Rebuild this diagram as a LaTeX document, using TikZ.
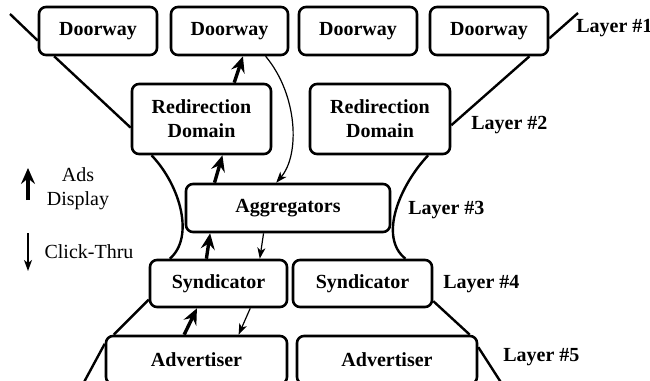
\documentclass[tikz,border=0pt]{standalone}
\usepackage{fontspec}
\setmainfont{Liberation Serif}
\usetikzlibrary{arrows.meta,calc}

\begin{document}
\begin{tikzpicture}[x=0.5pt,y=-0.5pt,
  box/.style={draw,line width=1.3pt,rounded corners=3.5pt,align=center,
    font=\bfseries,inner sep=1pt,minimum height=24pt},
  funnel/.style={line width=1.2pt},
  thickarr/.style={line width=1.7pt,-{Stealth[length=8pt,width=7pt,inset=2.8pt]}},
  thinarr/.style={line width=0.6pt,-{Stealth[length=5.5pt,width=4pt,inset=1.5pt]}},
  layer/.style={font=\bfseries,anchor=west,inner sep=0pt}]
\useasboundingbox (0,0) rectangle (650,381);
% layer 1
\node[box,minimum width=59pt] (door1) at (98,31) {Doorway};
\node[box,minimum width=58.5pt] (door2) at (229.5,31) {Doorway};
\node[box,minimum width=59pt] (door3) at (358,31) {Doorway};
\node[box,minimum width=59pt] (door4) at (489,31) {Doorway};
% layer 2
\node[box,minimum width=69.5pt,minimum height=35pt] (redir1) at (201.5,119) {Redirection\\Domain};
\node[box,minimum width=70pt,minimum height=35pt] (redir2) at (380,119) {Redirection\\Domain};
% layer 3
\node[box,minimum width=102pt] (aggr) at (288,208) {Aggregators};
% layer 4
\node[box,minimum width=68.5pt,minimum height=23.5pt] (synd1) at (218.5,283.5) {Syndicator};
\node[box,minimum width=69.5pt,minimum height=23.5pt] (synd2) at (362.5,283.5) {Syndicator};
% layer 5
\node[box,minimum width=90.5pt] (adv1) at (196.5,360) {Advertiser};
\node[box,minimum width=90pt] (adv2) at (387,360) {Advertiser};

% labels
\node[layer] (l1) at (576,28) {Layer \#1};
\node[layer] (l2) at (471,125) {Layer \#2};
\node[layer] (l3) at (408,210) {Layer \#3};
\node[layer] (l4) at (443,284) {Layer \#4};
\node[layer] (l5) at (503,357) {Layer \#5};

% funnel, left side
\coordinate (ltop) at (10,14);
\coordinate (lbot) at (83,384);
\draw[funnel] (ltop) -- (door1.189);
\draw[funnel] (door1.210) -- (redir1.187);
\draw[funnel] (redir1.216) .. controls (180,185) and (195,237) .. (synd1.153);
\draw[funnel] (synd1.193) -- (adv1.163);
\draw[funnel] (adv1.170) -- (lbot);
% funnel, right side
\coordinate (rtop) at (578,13);
\coordinate (rbot) at (502,384);
\draw[funnel] (rtop) -- (door4.-7);
\draw[funnel] (door4.-32) -- (redir2.-5);
\draw[funnel] (redir2.-37) .. controls (400,185) and (378,237) .. (synd2.30);
\draw[funnel] (synd2.-14) -- (adv2.17);
\draw[funnel] (adv2.8) -- (rbot);

% ads display
\draw[thickarr] (adv1.116) -- (synd1.229);
\draw[thickarr] (synd1.116) -- (aggr.198);
\draw[thickarr] (aggr.161) -- (redir1.-60);
\draw[thickarr] (redir1.48) -- (door2.-62);
% click-thru
\draw[thinarr] (door2.-35) .. controls (298,95) and (300,155) .. (aggr.115);
\draw[thinarr] (aggr.226) -- (synd1.31);
\draw[thinarr] (synd1.-38) -- (adv1.31);

% legend
\coordinate (ad1) at (28,200);
\coordinate (ad2) at (28,168);
\coordinate (ct1) at (28,233);
\coordinate (ct2) at (28,271);
\draw[thickarr] (ad1) -- (ad2);
\draw[thinarr] (ct1) -- (ct2);
\node[align=center,inner sep=0pt] (adtext) at (78,189) {Ads\\Display};
\node[inner sep=0pt] (cttext) at (89,252) {Click-Thru};
\end{tikzpicture}
\end{document}
